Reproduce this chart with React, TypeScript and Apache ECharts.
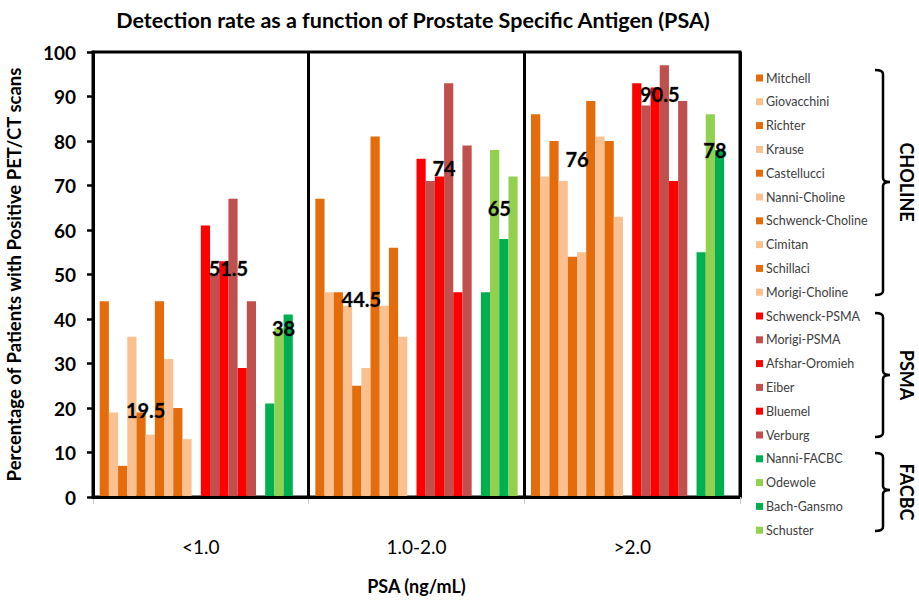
import React, { useEffect, useRef } from 'react';
import * as echarts from 'echarts';

const categories = ['<1.0', '1.0-2.0', '>2.0'];
const yTicks = [0, 10, 20, 30, 40, 50, 60, 70, 80, 90, 100];

// CHOLINE studies
const mitchell = [44, 67, 86];
const giovacchini = [19, 46, 72];
const richter = [7, 46, 80];
const krause = [36, 43, 71];
const castellucci = [19, 25, 54];
const nanniCholine = [14, 29, 55];
const schwenckCholine = [44, 81, 89];
const cimitan = [31, 43, 81];
const schillaci = [20, 56, 80];
const morigiCholine = [13, 36, 63];
// PSMA studies
const schwenckPSMA = [61, 76, 93];
const morigiPSMA = [50, 71, 88];
const afsharOromieh = [53, 72, 92];
const eiber = [67, 93, 97];
const bluemel = [29, 46, 71];
const verburg = [44, 79, 89];
// FACBC studies
const nanniFACBC = [21, 46, 55];
const odewole = [38, 78, 86];
const bachGansmo = [41, 58, 78];
const schuster = [null, 72, null];

// Median labels per tracer group
const cholineMedian = [19.5, 44.5, 76];
const psmaMedian = [51.5, 74, 90.5];
const facbcMedian = [38, 65, 78];

const DARK_OR = '#E46C0A';
const LIGHT_OR = '#FAC090';
const RED = '#FF0000';
const BROWN = '#C0504D';
const DARK_GR = '#00B050';
const LIGHT_GR = '#92D050';

const FONT = 'Lato, "Open Sans", sans-serif';

const studies: { name: string; data: (number | null)[]; color: string }[] = [
  { name: 'Mitchell', data: mitchell, color: DARK_OR },
  { name: 'Giovacchini', data: giovacchini, color: LIGHT_OR },
  { name: 'Richter', data: richter, color: DARK_OR },
  { name: 'Krause', data: krause, color: LIGHT_OR },
  { name: 'Castellucci', data: castellucci, color: DARK_OR },
  { name: 'Nanni-Choline', data: nanniCholine, color: LIGHT_OR },
  { name: 'Schwenck-Choline', data: schwenckCholine, color: DARK_OR },
  { name: 'Cimitan', data: cimitan, color: LIGHT_OR },
  { name: 'Schillaci', data: schillaci, color: DARK_OR },
  { name: 'Morigi-Choline', data: morigiCholine, color: LIGHT_OR },
  { name: 'Schwenck-PSMA', data: schwenckPSMA, color: RED },
  { name: 'Morigi-PSMA', data: morigiPSMA, color: BROWN },
  { name: 'Afshar-Oromieh', data: afsharOromieh, color: RED },
  { name: 'Eiber', data: eiber, color: BROWN },
  { name: 'Bluemel', data: bluemel, color: RED },
  { name: 'Verburg', data: verburg, color: BROWN },
  { name: 'Nanni-FACBC', data: nanniFACBC, color: DARK_GR },
  { name: 'Odewole', data: odewole, color: LIGHT_GR },
  { name: 'Bach-Gansmo', data: bachGansmo, color: DARK_GR },
  { name: 'Schuster', data: schuster, color: LIGHT_GR },
];

const GAP_FRAC = 0.062;
const SLOTS = 22;

function braceD(x: number, y1: number, y2: number, ym: number) {
  const h = 8; // hook length
  const t = 7; // tick length
  const r = 4;
  return [
    `M${x - h} ${y1}`,
    `Q${x} ${y1} ${x} ${y1 + r}`,
    `L${x} ${ym - r}`,
    `Q${x} ${ym} ${x + t} ${ym}`,
    `M${x + t} ${ym}`,
    `Q${x} ${ym} ${x} ${ym + r}`,
    `L${x} ${y2 - r}`,
    `Q${x} ${y2} ${x - h} ${y2}`,
  ].join(' ');
}

let registered = false;
function registerBraces() {
  if (registered) return;
  registered = true;
  echarts.graphic.registerShape('braceCholine', echarts.graphic.extendPath(braceD(883, 70, 295, 182), {}) as any);
  echarts.graphic.registerShape('bracePsma', echarts.graphic.extendPath(braceD(883, 313, 437, 375), {}) as any);
  echarts.graphic.registerShape('braceFacbc', echarts.graphic.extendPath(braceD(883, 453, 531, 490), {}) as any);
}

export default function App() {
  const ref = useRef<HTMLDivElement>(null);
  useEffect(() => {
    if (!ref.current) return;
    registerBraces();
    const chart = echarts.init(ref.current, undefined, { renderer: 'svg' });

    const slot = (1 - GAP_FRAC) / SLOTS;
    const cCenter = GAP_FRAC / 2 + 5 * slot;
    const pCenter = GAP_FRAC / 2 + 14 * slot;
    const fCenter = GAP_FRAC / 2 + 20 * slot;

    const medianPoints: [number, number][] = [];
    categories.forEach((_, i) => {
      medianPoints.push([i + cCenter, cholineMedian[i]]);
      medianPoints.push([i + pCenter, psmaMedian[i]]);
      medianPoints.push([i + fCenter, facbcMedian[i]]);
    });

    const barSeries: any[] = [];
    studies.forEach((s, idx) => {
      barSeries.push({
        name: s.name,
        type: 'bar',
        data: s.data,
        itemStyle: { color: s.color },
        barGap: '0%',
        barCategoryGap: GAP_FRAC * 100 + '%',
        emphasis: { disabled: true },
      });
      if (idx === 9 || idx === 15) {
        barSeries.push({
          name: 'spacer' + idx,
          type: 'bar',
          data: [null, null, null],
          itemStyle: { color: 'transparent' },
          barGap: '0%',
          barCategoryGap: GAP_FRAC * 100 + '%',
          silent: true,
        });
      }
    });
    // baseline drawn above bars
    barSeries[barSeries.length - 1].markLine = {
      silent: true,
      symbol: 'none',
      label: { show: false },
      lineStyle: { color: '#000', width: 3, type: 'solid' },
      data: [{ yAxis: 0 }],
    };

    const option: any = {
      animation: false,
      backgroundColor: '#fff',
      grid: {
        left: 93,
        right: 179,
        top: 52,
        bottom: 107,
        outerBoundsMode: 'none',
        show: true,
        borderColor: '#000',
        borderWidth: 3,
        backgroundColor: '#fff',
      },
      legend: {
        data: studies.map((s) => s.name),
        orient: 'vertical',
        left: 751,
        top: 66,
        itemWidth: 7,
        itemHeight: 7,
        itemGap: 9.8,
        icon: 'rect',
        textStyle: { fontFamily: FONT, fontSize: 12.5, color: '#404040', lineHeight: 14, padding: [0, 0, 0, -2] },
        selectedMode: false,
      },
      xAxis: [
        {
          type: 'category',
          data: categories,
          name: 'PSA (ng/mL)',
          nameLocation: 'middle',
          nameGap: 80,
          nameMoveOverlap: false,
          nameTextStyle: { fontFamily: FONT, fontSize: 18, fontWeight: 'bold', color: '#000' },
          axisLine: { show: true, lineStyle: { color: '#000', width: 3 } },
          axisTick: { show: true, length: 7, lineStyle: { color: '#c8c8c8', width: 1 } },
          axisLabel: { margin: 40, fontFamily: FONT, fontSize: 19, color: '#000' },
          splitLine: { show: true, lineStyle: { color: '#000', width: 3 } },
        },
        { type: 'value', min: 0, max: 3, show: false },
      ],
      yAxis: {
        type: 'value',
        min: yTicks[0],
        max: yTicks[yTicks.length - 1],
        interval: 10,
        name: 'Percentage of Patients with Positive PET/CT scans',
        nameLocation: 'middle',
        nameGap: 70,
        nameMoveOverlap: false,
        nameTextStyle: { fontFamily: FONT, fontSize: 18.5, fontWeight: 'bold', color: '#000' },
        axisLine: { show: true, lineStyle: { color: '#000', width: 3 } },
        axisTick: { show: true, length: 6, lineStyle: { color: '#000', width: 2.5 } },
        axisLabel: { margin: 17, fontFamily: FONT, fontSize: 19, fontWeight: 'bold', color: '#000' },
        splitLine: { show: false },
      },
      series: [
        ...barSeries,
        {
          type: 'scatter',
          xAxisIndex: 1,
          yAxisIndex: 0,
          data: medianPoints,
          symbolSize: 1,
          itemStyle: { color: '#000', opacity: 0 },
          silent: true,
          z: 10,
          label: {
            show: true,
            position: 'inside',
            formatter: (p: any) => String(p.value[1]),
            fontFamily: FONT,
            fontSize: 20,
            fontWeight: 'bold',
            color: '#000',
            opacity: 1,
            textBorderColor: 'rgba(0,0,0,0.25)',
            textBorderWidth: 1,
          },
        },
      ],
      graphic: [
        {
          type: 'text',
          x: 413,
          y: 20,
          style: {
            text: 'Detection rate as a function of Prostate Specific Antigen (PSA)',
            align: 'center',
            verticalAlign: 'middle',
            font: `bold 21.5px ${FONT}`,
            fill: '#000',
          },
        },
        { type: 'braceCholine', shape: {}, style: { stroke: '#000', fill: 'none', lineWidth: 2.5 } },
        { type: 'bracePsma', shape: {}, style: { stroke: '#000', fill: 'none', lineWidth: 2.5 } },
        { type: 'braceFacbc', shape: {}, style: { stroke: '#000', fill: 'none', lineWidth: 2.5 } },
        {
          type: 'text',
          x: 907,
          y: 182,
          rotation: -Math.PI / 2,
          style: { text: 'CHOLINE', align: 'center', verticalAlign: 'middle', font: `bold 18px ${FONT}`, fill: '#000' },
        },
        {
          type: 'text',
          x: 907,
          y: 375,
          rotation: -Math.PI / 2,
          style: { text: 'PSMA', align: 'center', verticalAlign: 'middle', font: `bold 18px ${FONT}`, fill: '#000' },
        },
        {
          type: 'text',
          x: 907,
          y: 492,
          rotation: -Math.PI / 2,
          style: { text: 'FACBC', align: 'center', verticalAlign: 'middle', font: `bold 18px ${FONT}`, fill: '#000' },
        },
      ],
    };

    chart.setOption(option);
    return () => chart.dispose();
  }, []);

  return <div ref={ref} style={{ position: 'fixed', left: 0, top: 0, width: 919, height: 604 }} />;
}
